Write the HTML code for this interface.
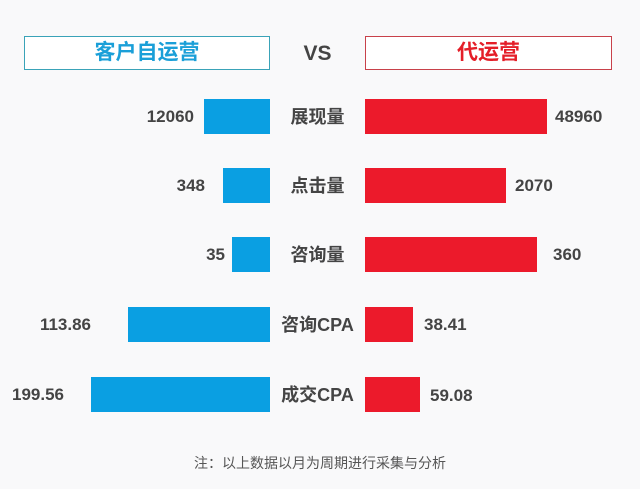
<!DOCTYPE html>
<html><head><meta charset="utf-8"><style>
body{margin:0;width:640px;height:489px;background:#f9f9fa;position:relative;overflow:hidden;font-family:"Liberation Sans","Noto Sans CJK SC",sans-serif;}
.a{position:absolute}
.box{position:absolute;top:36px;height:34px;background:#fff;box-sizing:border-box;font-weight:bold;font-size:21px;text-align:center;line-height:32px}
.b{background:#0a9fe2}.r{background:#ec1a2b}
.v{position:absolute;font-size:17px;color:#444;font-weight:bold;line-height:20px}
.c{position:absolute;left:270px;width:95px;text-align:center;font-size:18px;color:#444;font-weight:bold;line-height:20px}
</style></head><body>
<div class="box" style="left:24px;width:246px;border:1.5px solid #3aa3b8;color:#1a9fd8">客户自运营</div>
<div class="a" style="left:270px;width:95px;top:42px;text-align:center;font-size:21px;font-weight:bold;color:#444">VS</div>
<div class="box" style="left:365px;width:247px;border:1.5px solid #c8414a;color:#e41e28">代运营</div>

<div class="a b" style="left:204px;top:99px;width:66px;height:35px"></div>
<div class="a r" style="left:365px;top:99px;width:182px;height:35px"></div>
<div class="v" style="right:446px;top:107px">12060</div>
<div class="c" style="top:107px">展现量</div>
<div class="v" style="left:555px;top:107px">48960</div>

<div class="a b" style="left:223px;top:168px;width:47px;height:35px"></div>
<div class="a r" style="left:365px;top:168px;width:141px;height:35px"></div>
<div class="v" style="right:435px;top:176px">348</div>
<div class="c" style="top:176px">点击量</div>
<div class="v" style="left:515px;top:176px">2070</div>

<div class="a b" style="left:232px;top:237px;width:38px;height:35px"></div>
<div class="a r" style="left:365px;top:237px;width:172px;height:35px"></div>
<div class="v" style="right:415px;top:245px">35</div>
<div class="c" style="top:245px">咨询量</div>
<div class="v" style="left:553px;top:245px">360</div>

<div class="a b" style="left:128px;top:307px;width:142px;height:35px"></div>
<div class="a r" style="left:365px;top:307px;width:48px;height:35px"></div>
<div class="v" style="right:549px;top:315px">113.86</div>
<div class="c" style="top:315px">咨询CPA</div>
<div class="v" style="left:424px;top:315px">38.41</div>

<div class="a b" style="left:91px;top:377px;width:179px;height:35px"></div>
<div class="a r" style="left:365px;top:377px;width:55px;height:35px"></div>
<div class="v" style="right:576px;top:385px">199.56</div>
<div class="c" style="top:385px">成交CPA</div>
<div class="v" style="left:430px;top:386px">59.08</div>

<div class="a" style="left:0;width:640px;top:453px;text-align:center;font-size:14px;color:#555">注：以上数据以月为周期进行采集与分析</div>
</body></html>
